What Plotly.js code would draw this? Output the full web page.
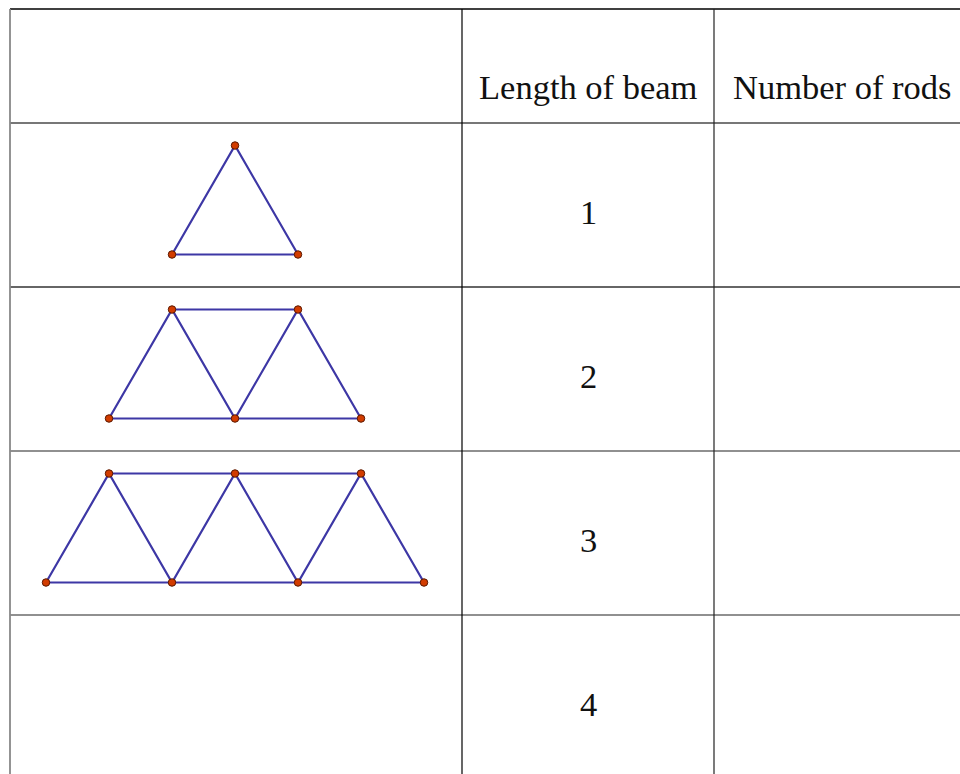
<!DOCTYPE html>
<html>
<head>
<meta charset="utf-8">
<script src="https://cdn.plot.ly/plotly-3.0.1.min.js"></script>
<style>html,body{margin:0;padding:0;background:#fff;}#chart{width:960px;height:774px;}</style>
</head>
<body>
<div id="chart"></div>
<script>
// ---- data ----
var headerLabels = ["", "Length of beam", "Number of rods"];
var beamLengths = [1, 2, 3, 4];
var rodCounts = ["", "", "", ""];
// truss vertices in lattice half-units (x) ; bottom row y=0, top row y=1
var truss1Bottom = [2, 4];
var truss1Top = [3];
var truss2Bottom = [1, 3, 5];
var truss2Top = [2, 4];
var truss3Bottom = [0, 2, 4, 6];
var truss3Top = [1, 3, 5];

// ---- layout constants (pixels of the 960x774 page) ----
var W = 960, H = 774;
var colEdges = [10, 462, 714];
var rowEdges = [9, 123, 287, 451, 615];
var lineColor = "#3d37a5";
var dotColor = "#d23c00";
var font = "Liberation Serif, Times New Roman, serif";
var fontSize = 34.5;

var trusses = [
  {bottom: truss1Bottom, top: truss1Top},
  {bottom: truss2Bottom, top: truss2Top},
  {bottom: truss3Bottom, top: truss3Top}
];

var traces = [];
var layout = {
  width: W, height: H,
  margin: {l: 0, r: 0, t: 0, b: 0, pad: 0},
  paper_bgcolor: "#fff",
  plot_bgcolor: "rgba(0,0,0,0)",
  showlegend: false,
  xaxis: {range: [0, W], domain: [0, 1], visible: false, fixedrange: true},
  yaxis: {range: [H, 0], domain: [0, 1], visible: false, fixedrange: true},
  xaxis2: {range: [-46 / 63, (W - 46) / 63], domain: [0, 1], anchor: "y2", visible: false, fixedrange: true},
  shapes: [],
  annotations: []
};

// dummy trace to set main axes
traces.push({x: [0], y: [0], mode: "markers", marker: {opacity: 0}, hoverinfo: "skip", xaxis: "x", yaxis: "y"});

var baseOffset = 32.5, triH = 109;
trusses.forEach(function (t, i) {
  var cellTop = rowEdges[i + 1], cellBot = rowEdges[i + 2];
  var cellH = cellBot - cellTop;
  var yName = "y" + (i + 2);
  var axKey = "yaxis" + (i + 2);
  layout[axKey] = {
    domain: [1 - cellBot / H, 1 - cellTop / H],
    range: [-baseOffset / triH, (cellH - baseOffset) / triH],
    anchor: "x2", visible: false, fixedrange: true
  };
  var pts = [];
  t.bottom.forEach(function (v) { pts.push([v, 0]); });
  t.top.forEach(function (v) { pts.push([v, 1]); });
  pts.sort(function (a, b) { return a[0] - b[0]; });
  var lineStyle = {color: lineColor, width: 2.2};
  traces.push({x: pts.map(function (p) { return p[0]; }), y: pts.map(function (p) { return p[1]; }),
    mode: "lines", line: lineStyle, xaxis: "x2", yaxis: yName, hoverinfo: "skip"});
  traces.push({x: [Math.min.apply(null, t.bottom), Math.max.apply(null, t.bottom)], y: [0, 0],
    mode: "lines", line: lineStyle, xaxis: "x2", yaxis: yName, hoverinfo: "skip"});
  if (t.top.length > 1) {
    traces.push({x: [Math.min.apply(null, t.top), Math.max.apply(null, t.top)], y: [1, 1],
      mode: "lines", line: lineStyle, xaxis: "x2", yaxis: yName, hoverinfo: "skip"});
  }
  traces.push({x: pts.map(function (p) { return p[0]; }), y: pts.map(function (p) { return p[1]; }),
    mode: "markers", marker: {size: 7.5, color: dotColor, line: {color: "#5a1800", width: 1}},
    xaxis: "x2", yaxis: yName, hoverinfo: "skip", cliponaxis: false});
});

// table lines
function hline(y, color, w) {
  layout.shapes.push({type: "line", xref: "x", yref: "y", x0: colEdges[0], x1: W, y0: y, y1: y,
    line: {color: color, width: w}, layer: "below"});
}
function vline(x, color, w) {
  layout.shapes.push({type: "line", xref: "x", yref: "y", x0: x, x1: x, y0: rowEdges[0], y1: H,
    line: {color: color, width: w}, layer: "below"});
}
hline(rowEdges[0], "#000", 1.5);
hline(rowEdges[1], "#777", 2);
hline(rowEdges[2], "#666", 1.8);
hline(rowEdges[3], "#222", 1.2);
hline(rowEdges[4], "#222", 1.2);
vline(colEdges[0], "#888", 1.8);
vline(colEdges[1], "#000", 1.2);
vline(colEdges[2], "#222", 1.2);

// header labels
var headerCenters = [(colEdges[0] + colEdges[1]) / 2, 588, 842];
headerLabels.forEach(function (lab, j) {
  if (!lab) return;
  layout.annotations.push({xref: "x", yref: "y", x: headerCenters[j], y: 87, text: lab,
    showarrow: false, xanchor: "center", yanchor: "middle",
    font: {family: font, size: fontSize, color: "#111"}});
});
// beam lengths and rod counts
beamLengths.forEach(function (n, i) {
  var cy = (rowEdges[i + 1] + (rowEdges[i + 2] || (rowEdges[i + 1] + 164))) / 2 + 7;
  layout.annotations.push({xref: "x", yref: "y", x: headerCenters[1], y: cy, text: String(n),
    showarrow: false, xanchor: "center", yanchor: "middle",
    font: {family: font, size: fontSize, color: "#111"}});
  if (rodCounts[i] !== "") {
    layout.annotations.push({xref: "x", yref: "y", x: headerCenters[2], y: cy, text: String(rodCounts[i]),
      showarrow: false, xanchor: "center", yanchor: "middle",
      font: {family: font, size: fontSize, color: "#111"}});
  }
});

Plotly.newPlot("chart", traces, layout, {staticPlot: true, displayModeBar: false});
</script>
</body>
</html>
